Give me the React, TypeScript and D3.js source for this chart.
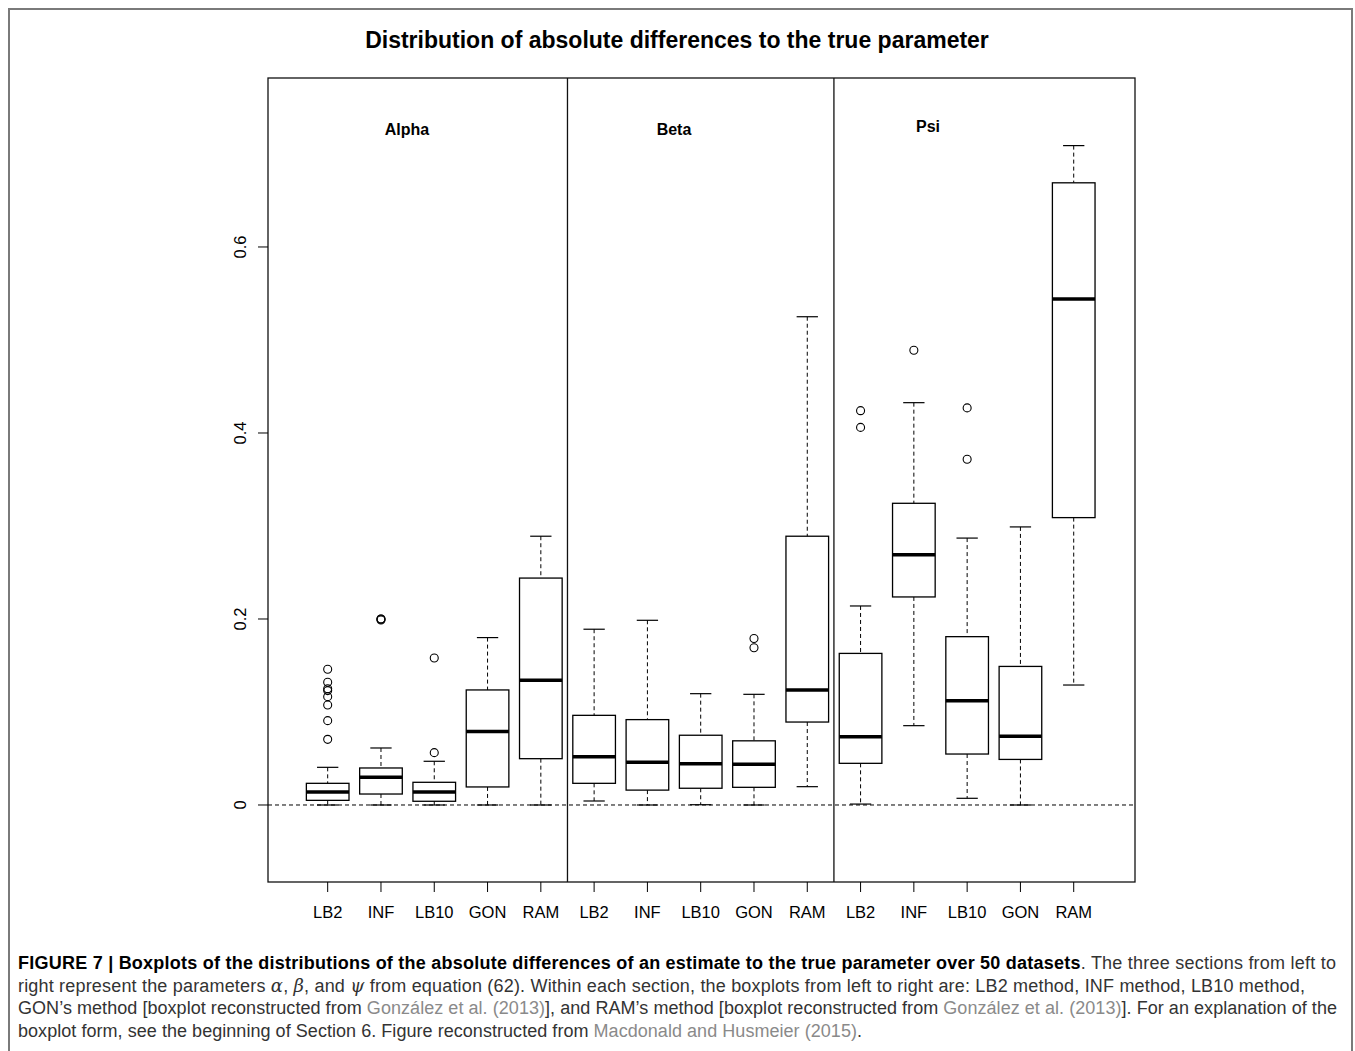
import React from "react";
import * as d3 from "d3";

const methods = ["LB2", "INF", "LB10", "GON", "RAM"];
const sections = ["Alpha", "Beta", "Psi"];
const yTicks = [0, 0.2, 0.4, 0.6];

// per box (15 boxes, sections Alpha, Beta, Psi × methods)
const lowerWhisker = [0, 0, 0, 0, 0, 0.0043, 0, 0.0003, 0, 0.0197, 0.001, 0.0853, 0.0072, 0, 0.129];
const q1 = [0.005, 0.0118, 0.004, 0.0194, 0.0498, 0.0233, 0.016, 0.018, 0.019, 0.0892, 0.0448, 0.2237, 0.0548, 0.049, 0.309];
const medians = [0.014, 0.0297, 0.014, 0.079, 0.134, 0.052, 0.0459, 0.0444, 0.0437, 0.1237, 0.0735, 0.269, 0.112, 0.0738, 0.544];
const q3 = [0.0233, 0.0398, 0.0244, 0.1237, 0.244, 0.0964, 0.0918, 0.075, 0.069, 0.289, 0.163, 0.3244, 0.181, 0.149, 0.669];
const upperWhisker = [0.0405, 0.0613, 0.047, 0.18, 0.289, 0.189, 0.1986, 0.1197, 0.119, 0.525, 0.214, 0.4326, 0.287, 0.299, 0.709];
const outliers: number[][] = [
  [0.146, 0.132, 0.125, 0.123, 0.1165, 0.1075, 0.0907, 0.0706],
  [0.2, 0.2, 0.199],
  [0.0563, 0.158],
  [],
  [],
  [],
  [],
  [],
  [0.179, 0.169],
  [],
  [0.424, 0.406],
  [0.489],
  [0.427, 0.3717],
  [],
  [],
];

const captionLines = [
  [
    { t: "FIGURE 7 | Boxplots of the distributions of the absolute differences of an estimate to the true parameter over 50 datasets", s: "b" },
    { t: ". The three sections from left to", s: "n" },
  ],
  [
    { t: "right represent the parameters ", s: "n" },
    { t: "α", s: "i" },
    { t: ", ", s: "n" },
    { t: "β", s: "i" },
    { t: ", and ", s: "n" },
    { t: "ψ", s: "i" },
    { t: " from equation (62). Within each section, the boxplots from left to right are: LB2 method, INF method, LB10 method,", s: "n" },
  ],
  [
    { t: "GON’s method [boxplot reconstructed from ", s: "n" },
    { t: "González et al. (2013)", s: "l" },
    { t: "], and RAM’s method [boxplot reconstructed from ", s: "n" },
    { t: "González et al. (2013)", s: "l" },
    { t: "]. For an explanation of the", s: "n" },
  ],
  [
    { t: "boxplot form, see the beginning of Section 6. Figure reconstructed from ", s: "n" },
    { t: "Macdonald and Husmeier (2015)", s: "l" },
    { t: ".", s: "n" },
  ],
];
const captionWidths = [1318, 1287, 1319, 844];

const W = 1355;
const H = 1051;
const left = 268, right = 1135, top = 78, bottom = 882;

export default function App() {
  const n = sections.length * methods.length;
  const x = d3.scaleLinear().domain([-0.12, 16.15]).range([left, right]);
  const y = d3.scaleLinear().domain([-0.0828, 0.7817]).range([bottom, top]);
  const step = x(2) - x(1);
  const bw = step * 0.8;
  const capW = bw * 0.5;
  const font = "'Liberation Sans', Arial, Helvetica, sans-serif";
  const labels = d3.range(n).map((i) => methods[i % methods.length]);
  const sectionLabelPos = [
    { x: 407, y: 135 },
    { x: 674, y: 135 },
    { x: 928, y: 132 },
  ];

  return (
    <svg width={W} height={H} style={{ position: "absolute", left: 0, top: 0, background: "#fff" }} fontFamily={font}>
      {/* outer frame */}
      <path d={`M9,${H} L9,9 L1352,9 L1352,${H}`} fill="none" stroke="#7a7a7a" strokeWidth={2} />
      <text x={677} y={48} textAnchor="middle" fontSize={23} fontWeight="bold">
        Distribution of absolute differences to the true parameter
      </text>
      {/* plot box */}
      <rect x={left} y={top} width={right - left} height={bottom - top} fill="none" stroke="#111" strokeWidth={1.3} />
      {/* section dividers */}
      {[5.5, 10.5].map((v) => (
        <line key={v} x1={x(v)} x2={x(v)} y1={top} y2={bottom} stroke="#111" strokeWidth={1.3} />
      ))}
      {/* zero reference */}
      <line x1={left} x2={right} y1={y(0)} y2={y(0)} stroke="#000" strokeWidth={1} strokeDasharray="4,3" />
      {/* section labels */}
      {sections.map((s, i) => (
        <text key={s} x={sectionLabelPos[i].x} y={sectionLabelPos[i].y} textAnchor="middle" fontSize={16} fontWeight="bold">
          {s}
        </text>
      ))}
      {/* y axis */}
      {yTicks.map((t) => (
        <g key={t}>
          <line x1={left - 10} x2={left} y1={y(t)} y2={y(t)} stroke="#000" strokeWidth={1} />
          <text transform={`translate(246,${y(t)}) rotate(-90)`} textAnchor="middle" fontSize={16.5}>
            {t === 0 ? "0" : String(t)}
          </text>
        </g>
      ))}
      {/* x axis */}
      {labels.map((l, i) => (
        <g key={i}>
          <line x1={x(i + 1)} x2={x(i + 1)} y1={bottom} y2={bottom + 10} stroke="#000" strokeWidth={1} />
          <text x={x(i + 1)} y={918} textAnchor="middle" fontSize={16.5}>
            {l}
          </text>
        </g>
      ))}
      {/* boxes */}
      {labels.map((_, i) => {
        const cx = x(i + 1);
        return (
          <g key={"b" + i}>
            <line x1={cx} x2={cx} y1={y(upperWhisker[i])} y2={y(q3[i])} stroke="#000" strokeWidth={1} strokeDasharray="4,3" />
            <line x1={cx} x2={cx} y1={y(q1[i])} y2={y(lowerWhisker[i])} stroke="#000" strokeWidth={1} strokeDasharray="4,3" />
            <line x1={cx - capW / 2} x2={cx + capW / 2} y1={y(upperWhisker[i])} y2={y(upperWhisker[i])} stroke="#000" strokeWidth={1.2} />
            <line x1={cx - capW / 2} x2={cx + capW / 2} y1={y(lowerWhisker[i])} y2={y(lowerWhisker[i])} stroke="#000" strokeWidth={1.2} />
            <rect x={cx - bw / 2} y={y(q3[i])} width={bw} height={y(q1[i]) - y(q3[i])} fill="#fff" stroke="#000" strokeWidth={1.3} />
            <line x1={cx - bw / 2} x2={cx + bw / 2} y1={y(medians[i])} y2={y(medians[i])} stroke="#000" strokeWidth={3.5} />
            {outliers[i].map((o, j) => (
              <circle key={j} cx={cx} cy={y(o)} r={4} fill="none" stroke="#000" strokeWidth={1.1} />
            ))}
          </g>
        );
      })}
      {/* caption */}
      {captionLines.map((line, li) => (
        <text
          key={li}
          x={18}
          y={969 + li * 22.7}
          fontSize={18}
          fill="#333"
          textLength={captionWidths[li]}
          lengthAdjust="spacing"
        >
          {line.map((seg, si) => (
            <tspan
              key={si}
              fontWeight={seg.s === "b" ? "bold" : "normal"}
              fontStyle={seg.s === "i" ? "italic" : "normal"}
              fontFamily={seg.s === "i" ? "'DejaVu Serif', serif" : undefined}
              fill={seg.s === "l" ? "#8a8a8a" : seg.s === "b" ? "#000" : "#333"}
            >
              {seg.t}
            </tspan>
          ))}
        </text>
      ))}
    </svg>
  );
}
